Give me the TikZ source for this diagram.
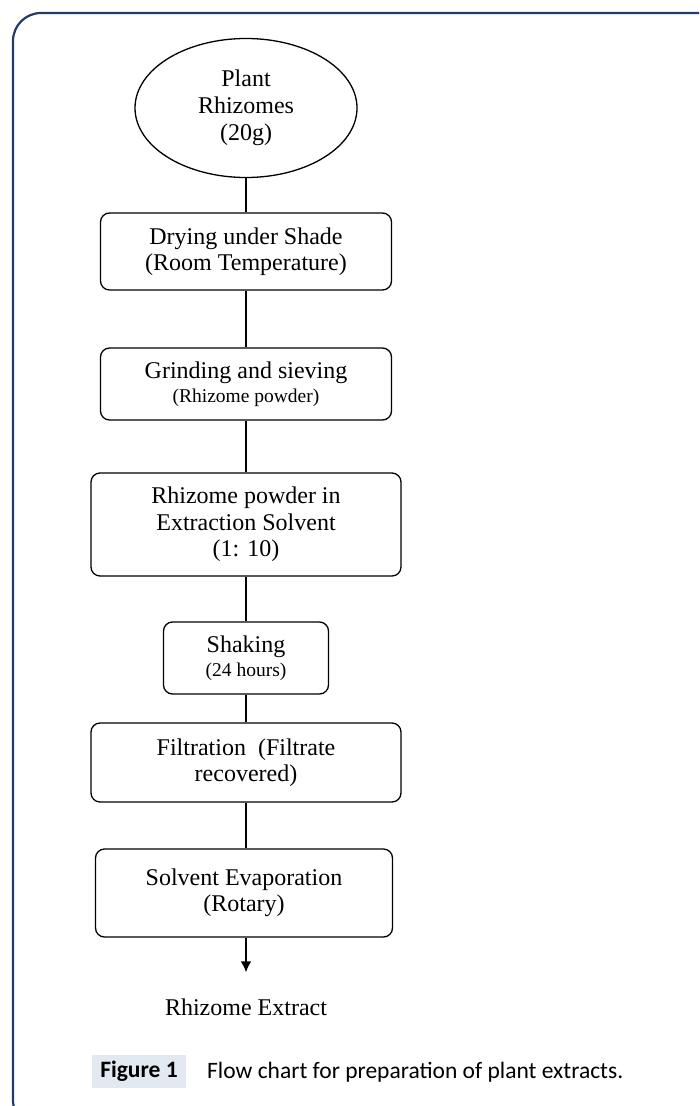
\documentclass[tikz,border=0pt]{standalone}
\usepackage{fontspec}
\setmainfont{Liberation Serif}
\newfontfamily\capfont{Carlito}
\usetikzlibrary{shapes.geometric,arrows.meta}
\definecolor{framenavy}{HTML}{1E3D68}
\definecolor{capfill}{HTML}{E3E9F1}

\begin{document}
\begin{tikzpicture}[x=1pt, y=-1pt,
  procbox/.style={rectangle, rounded corners=9pt, draw=black, line width=1.3pt, align=center, font=\fontsize{24}{26.5}\selectfont},
  link/.style={line width=2.5pt}]

\useasboundingbox (0,0) rectangle (699,1106);

% outer frame, cut by the page edge
\begin{scope}
\clip (0,0) rectangle (699,1106);
\draw[framenavy, line width=2.2pt, rounded corners=28pt] (13,13) rectangle (735,1128);
\end{scope}

\node (fc-plant) at (246, 108) [ellipse, draw=black, line width=1.3pt, minimum width=222pt, minimum height=139pt, align=center, font=\fontsize{24}{27}\selectfont] {Plant\\Rhizomes\\(20g)};

\node (fc-dry) at (246, 251.5) [procbox, minimum width=291pt, minimum height=77pt] {Drying under Shade\\(Room Temperature)};
\node (fc-grind) at (246, 384) [procbox, minimum width=291pt, minimum height=72pt] {Grinding and sieving\\[-2pt]{\fontsize{19.5}{22}\selectfont (Rhizome powder)}};
\node (fc-soak) at (246, 524.5) [procbox, minimum width=310pt, minimum height=103pt] {Rhizome powder in\\Extraction Solvent\\(1: 10)};
\node (fc-shake) at (246, 658) [procbox, minimum width=165pt, minimum height=72pt] {Shaking\\[-2pt]{\fontsize{19.5}{22}\selectfont (24 hours)}};
\node (fc-filter) at (246, 762.5) [procbox, minimum width=310pt, minimum height=79pt] {Filtration\enspace(Filtrate\\recovered)};
\node (fc-evap) at (244, 893) [procbox, minimum width=297pt, minimum height=88pt] {Solvent Evaporation\\(Rotary)};
\node (fc-extract) at (246, 1007) [inner xsep=0pt, inner ysep=26pt, font=\fontsize{24}{26.5}\selectfont] {Rhizome Extract};

\draw[link] (fc-plant) -- (fc-dry);
\draw[link] (fc-dry) -- (fc-grind);
\draw[link] (fc-grind) -- (fc-soak);
\draw[link] (fc-soak) -- (fc-shake);
\draw[link] (fc-shake) -- (fc-filter);
\draw[link] (fc-filter) -- (fc-evap.north -| fc-filter.south);
\draw[link, -{Latex[length=11pt, width=11pt]}] (fc-evap.south -| fc-extract.north) -- (fc-extract.north);

% caption
\node (figlabel) at (139, 1071.5) [fill=capfill, minimum width=94pt, minimum height=33pt, inner sep=0pt, font=\capfont\bfseries\fontsize{23.5}{26}\selectfont] {Figure 1};
\node (figtext) at (207, 1072) [anchor=west, inner sep=0pt, font=\capfont\fontsize{23.5}{26}\selectfont] {Flow chart for preparation of plant extracts.};

\end{tikzpicture}
\end{document}
